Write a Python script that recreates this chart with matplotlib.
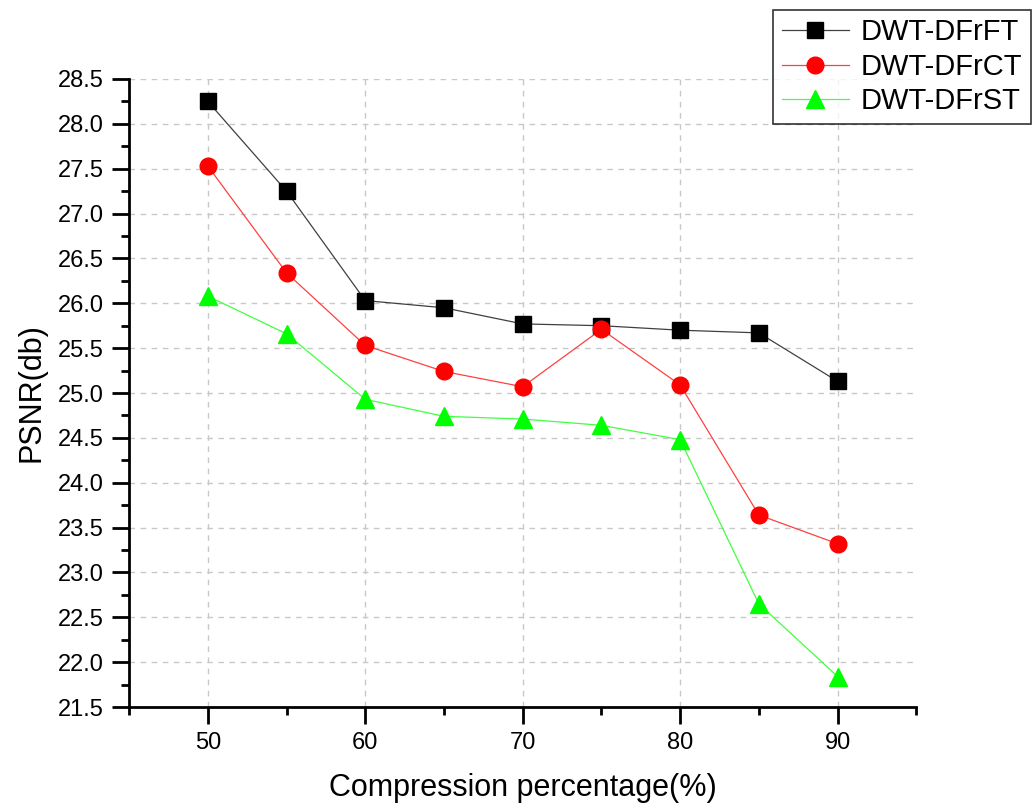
import matplotlib.pyplot as plt
from matplotlib.ticker import MultipleLocator

plt.rcParams['font.family'] = ['Liberation Sans', 'DejaVu Sans']

# dados
compressao = [50, 55, 60, 65, 70, 75, 80, 85, 90]
psnr_dfrft = [28.25, 27.25, 26.03, 25.95, 25.77, 25.75, 25.70, 25.67, 25.13]
psnr_dfrct = [27.53, 26.34, 25.53, 25.24, 25.07, 25.71, 25.09, 23.64, 23.32]
psnr_dfrst = [26.08, 25.66, 24.93, 24.74, 24.71, 24.64, 24.48, 22.65, 21.84]

fig = plt.figure(figsize=(10.34, 8.05), dpi=100)
ax = fig.add_axes([0.1248, 0.1217, 0.7614, 0.7802])

ax.plot(compressao, psnr_dfrft, color='#404040', linewidth=0.9, marker='s',
        markersize=11, markerfacecolor='black', markeredgecolor='black', label='DWT-DFrFT')
ax.plot(compressao, psnr_dfrct, color='#ff4040', linewidth=0.9, marker='o',
        markersize=12, markerfacecolor='red', markeredgecolor='red', label='DWT-DFrCT')
ax.plot(compressao, psnr_dfrst, color='#40ff40', linewidth=0.9, marker='^',
        markersize=13, markerfacecolor='#00ff00', markeredgecolor='#00ff00', label='DWT-DFrST')

ax.set_xlim(45, 95)
ax.set_ylim(21.5, 28.5)
ax.xaxis.set_major_locator(MultipleLocator(10))
ax.xaxis.set_minor_locator(MultipleLocator(5))
ax.yaxis.set_major_locator(MultipleLocator(0.5))
ax.yaxis.set_minor_locator(MultipleLocator(0.25))
ax.yaxis.set_major_formatter(plt.FormatStrFormatter('%.1f'))

ax.grid(True, which='major', linestyle=(0, (4, 4)), color='#c8c8c8', linewidth=1)
ax.set_axisbelow(True)

for lado in ['top', 'right']:
    ax.spines[lado].set_visible(False)
for lado in ['left', 'bottom']:
    ax.spines[lado].set_linewidth(2)

ax.tick_params(which='major', direction='out', length=12, width=2, labelsize=17, pad=6)
ax.tick_params(which='minor', direction='out', length=6, width=2)

ax.set_xlabel('Compression percentage(%)', fontsize=22, labelpad=14)
ax.set_ylabel('PSNR(db)', fontsize=22, labelpad=8)

leg = fig.legend(loc='upper right', bbox_to_anchor=(0.997, 0.988), fontsize=21,
                 frameon=True, fancybox=False, edgecolor='black', handlelength=2.3,
                 borderpad=0.3, labelspacing=0.22, handletextpad=0.4, borderaxespad=0)
leg.get_frame().set_linewidth(1.2)

fig.savefig('out.png', dpi=100)
